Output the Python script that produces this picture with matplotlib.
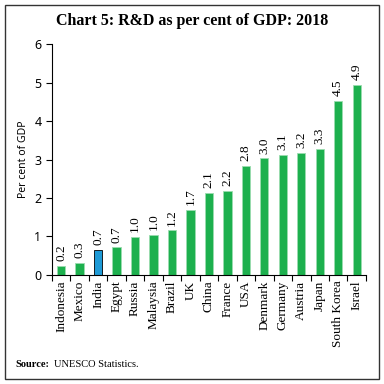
import numpy as np
from matplotlib import pyplot as plt
from matplotlib.patches import Rectangle

countries = ['Indonesia', 'Mexico', 'India', 'Egypt', 'Russia', 'Malaysia', 'Brazil', 'UK',
             'China', 'France', 'USA', 'Denmark', 'Germany', 'Austria', 'Japan',
             'South Korea', 'Israel']
values = [0.23, 0.31, 0.66, 0.72, 0.99, 1.04, 1.16, 1.70, 2.14, 2.19, 2.84, 3.03, 3.13,
          3.17, 3.28, 4.53, 4.94]
labels = ['0.2', '0.3', '0.7', '0.7', '1.0', '1.0', '1.2', '1.7', '2.1', '2.2', '2.8',
          '3.0', '3.1', '3.2', '3.3', '4.5', '4.9']

green = '#1db04e'
blue = '#1e9ad6'
serif = ['Liberation Serif', 'DejaVu Serif']
sans = ['Noto Sans', 'DejaVu Sans']

fig = plt.figure(figsize=(3.84, 3.84), dpi=100)
fig.patches.append(Rectangle((0.012, 0.012), 0.976, 0.976, transform=fig.transFigure,
                             fill=False, edgecolor='#333333', linewidth=1.0))
ax = fig.add_axes([0.135, 0.284, 0.818, 0.601])

x = np.arange(len(countries))
cols = [blue if c == 'India' else green for c in countries]
edges = ['black' if c == 'India' else '#9bdcaf' for c in countries]
bars = ax.bar(x, values, width=0.45, color=cols, edgecolor=edges, linewidth=0.6)

for xi, v, lab in zip(x, values, labels):
    ax.text(xi, v + 0.12, lab, rotation=90, ha='center', va='bottom',
            fontsize=9.5, family=serif)

ax.set_xlim(-0.5, len(countries) - 0.5)
ax.set_ylim(0, 6)
ax.set_yticks(range(7))
ax.set_xticks(x)
ax.set_xticklabels(countries, rotation=90, family=serif, fontsize=9.5)
ax.set_xticks(np.arange(-0.5, len(countries)), minor=True)
ax.tick_params(axis='x', which='major', length=0, pad=4)
ax.tick_params(axis='x', which='minor', length=4, width=0.8)
ax.tick_params(axis='y', length=4, width=0.8, labelsize=9)
for lab in ax.get_yticklabels():
    lab.set_family(sans)
ax.spines['top'].set_visible(False)
ax.spines['right'].set_visible(False)
ax.set_ylabel('Per cent of GDP', fontsize=7.5, family=sans)

fig.text(0.5, 0.935, 'Chart 5: R&D as per cent of GDP: 2018', ha='center',
         fontsize=11.5, fontweight='bold', family=serif)
fig.text(0.04, 0.045, 'Source:', fontsize=7.5, fontweight='bold', family=serif)
fig.text(0.14, 0.045, 'UNESCO Statistics.', fontsize=7.5, family=serif)

fig.savefig('out.png', dpi=100)
